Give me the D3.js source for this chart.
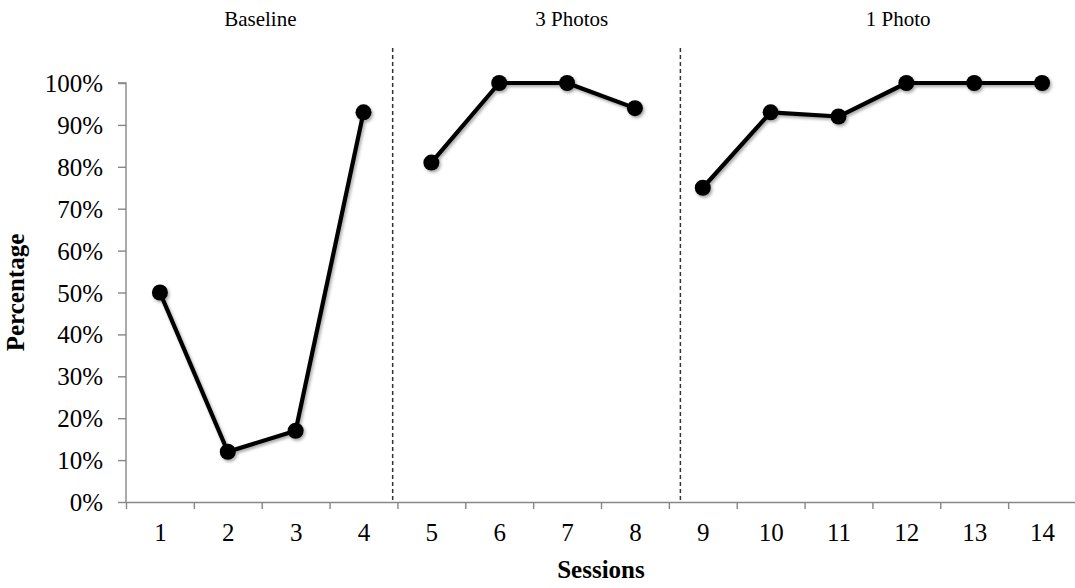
<!DOCTYPE html>
<html>
<head>
<meta charset="utf-8">
<script src="https://cdn.jsdelivr.net/npm/d3@7"></script>
<style>
  html, body { margin: 0; padding: 0; background: #fff; }
  svg { display: block; }
  text { font-family: "Liberation Serif", "Times New Roman", serif; fill: #000; }
</style>
</head>
<body>
<svg id="chart" width="1075" height="588"></svg>
<script>
// ---- data ----
const sessions = [1,2,3,4,5,6,7,8,9,10,11,12,13,14];
const percentages = [0.50,0.12,0.17,0.93,0.81,1.00,1.00,0.94,0.75,0.93,0.92,1.00,1.00,1.00];
const phaseOfSession = [0,0,0,0,1,1,1,1,2,2,2,2,2,2];
const phaseLabels = ["Baseline","3 Photos","1 Photo"];
const phaseLabelAt = [2.48, 7.07, 11.88];      // in session units
const phaseChangeAt = [4.43, 8.67];            // in session units
const yTicks = [0,0.1,0.2,0.3,0.4,0.5,0.6,0.7,0.8,0.9,1.0];
const xTitle = "Sessions";
const yTitle = "Percentage";

// ---- layout ----
const plotLeft = 126, plotRight = 1076, plotTop = 83, plotBottom = 502;
const svg = d3.select("#chart");

const defs = svg.append("defs");
const f = defs.append("filter").attr("id","shadow")
  .attr("x","-50%").attr("y","-50%").attr("width","200%").attr("height","200%");
f.append("feDropShadow").attr("dx",1.5).attr("dy",2).attr("stdDeviation",1.6)
  .attr("flood-color","#000").attr("flood-opacity",0.35);

const x = d3.scaleLinear().domain([0.5, 14.5]).range([plotLeft, plotRight]);
const y = d3.scaleLinear().domain([0, 1]).range([plotBottom, plotTop]);

// y axis
const yAxis = svg.append("g").attr("transform", `translate(${plotLeft},0)`)
  .call(d3.axisLeft(y).tickValues(yTicks).tickFormat(d3.format(".0%")).tickSize(8).tickPadding(15));
yAxis.select(".domain").attr("stroke","#878787").attr("stroke-width",1.4).attr("d", `M-8,${plotTop}H0V${plotBottom}`);
yAxis.selectAll(".tick line").attr("stroke","#878787").attr("stroke-width",1.4);
yAxis.selectAll(".tick text").style("font-family","Liberation Serif").style("font-size","25px").attr("dy","0.34em");

// x axis: boundary ticks
const boundaries = d3.range(0, 15).map(i => i + 0.5);
const xAxisTicks = svg.append("g").attr("transform", `translate(0,${plotBottom})`)
  .call(d3.axisBottom(x).tickValues(boundaries).tickFormat("").tickSize(7).tickSizeOuter(0));
xAxisTicks.select(".domain").attr("stroke","#878787").attr("stroke-width",1.4);
xAxisTicks.selectAll(".tick line").attr("stroke","#878787").attr("stroke-width",1.4);

// x axis labels
const xAxisLabels = svg.append("g").attr("transform", `translate(0,${plotBottom})`)
  .call(d3.axisBottom(x).tickValues(sessions).tickFormat(d3.format("d")).tickSize(0).tickPadding(21));
xAxisLabels.select(".domain").remove();
xAxisLabels.selectAll(".tick text").style("font-family","Liberation Serif").style("font-size","25px");

// phase change lines
svg.append("g").selectAll("line").data(phaseChangeAt).join("line")
  .attr("x1", d => x(d)).attr("x2", d => x(d))
  .attr("y1", 48).attr("y2", plotBottom)
  .attr("stroke","#333").attr("stroke-width",1.5).attr("stroke-dasharray","4,3");

// phase labels
svg.append("g").selectAll("text").data(phaseLabels).join("text")
  .attr("x", (d,i) => x(phaseLabelAt[i])).attr("y", 26)
  .attr("text-anchor","middle").style("font-size","21px").text(d => d);

// data lines per phase
const pts = sessions.map((s,i) => ({s, v: percentages[i], p: phaseOfSession[i]}));
const groups = d3.groups(pts, d => d.p);
const line = d3.line().x(d => x(d.s)).y(d => y(d.v));
const gData = svg.append("g").attr("filter","url(#shadow)");
gData.selectAll("path").data(groups).join("path")
  .attr("d", d => line(d[1])).attr("fill","none").attr("stroke","#000")
  .attr("stroke-width",4.2).attr("stroke-linejoin","round");
gData.selectAll("circle").data(pts).join("circle")
  .attr("cx", d => x(d.s)).attr("cy", d => y(d.v)).attr("r", 8).attr("fill","#000");

// titles
svg.append("text").attr("x", (plotLeft+plotRight)/2).attr("y", 578).attr("text-anchor","middle")
  .style("font-size","25px").style("font-weight","bold").text(xTitle);
svg.append("text").attr("transform", `translate(24,${(plotTop+plotBottom)/2}) rotate(-90)`)
  .attr("text-anchor","middle").style("font-size","25px").style("font-weight","bold").text(yTitle);
</script>
</body>
</html>
